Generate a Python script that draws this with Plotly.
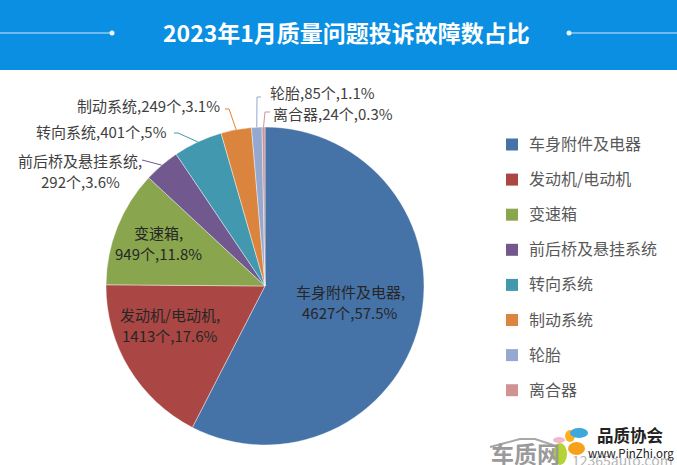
import math
import plotly.graph_objects as go

categories = ["车身附件及电器", "发动机/电动机", "变速箱", "前后桥及悬挂系统", "转向系统", "制动系统", "轮胎", "离合器"]
counts = [4627, 1413, 949, 292, 401, 249, 85, 24]
shares = ["57.5%", "17.6%", "11.8%", "3.6%", "5%", "3.1%", "1.1%", "0.3%"]
colors = ["#4572A7", "#AA4643", "#89A54E", "#71588F", "#4198AF", "#DB843D", "#93A9CF", "#D19392"]
title_text = "2023年1月质量问题投诉故障数占比"

W, H = 677, 465
CX, CY, R = 265, 286, 159
def px(x): return x / W
def py(y): return 1 - y / H

font = "Noto Sans CJK SC, Microsoft YaHei, sans-serif"
ink = "#3f3f3f"

fig = go.Figure(go.Pie(
    labels=categories, values=counts, sort=False, direction="clockwise", rotation=0,
    marker=dict(colors=colors, line=dict(color="rgba(255,255,255,0.7)", width=0.6)),
    textinfo="none", hoverinfo="label+value+percent", showlegend=False,
    domain=dict(x=[px(CX - R), px(CX + R)], y=[py(CY + R), py(CY - R)]),
))

shapes = []
annotations = []

def add_text(x, y, text, size=13, color=ink, anchor="center", bold=False):
    annotations.append(dict(
        x=px(x), y=py(y - 1.5), xref="paper", yref="paper", text=f"<b>{text}</b>" if bold else text,
        showarrow=False, xanchor=anchor, yanchor="middle", align="center",
        font=dict(family=font, size=size, color=color),
    ))

# header band
shapes.append(dict(type="rect", xref="paper", yref="paper", x0=0, x1=1, y0=py(70), y1=1,
                   fillcolor="#0A8FE2", line=dict(width=0), layer="below"))
for x0, x1, dot in [(0, 112, 112), (569, 677, 569)]:
    shapes.append(dict(type="line", xref="paper", yref="paper", x0=px(x0), x1=px(x1), y0=py(33), y1=py(33),
                       line=dict(color="#CFEAFB", width=1)))
    shapes.append(dict(type="circle", xref="paper", yref="paper", x0=px(dot - 2.5), x1=px(dot + 2.5),
                       y0=py(35.5), y1=py(30.5), fillcolor="#EAF6FE", line=dict(width=0)))
add_text(346, 33.5, title_text, size=23, color="#FFFFFF", bold=True)

# slice labels
LS = 15
def two_lines(i, x, y, color):
    add_text(x, y - 10.5, f"{categories[i]},", LS, color)
    add_text(x, y + 10.5, f"{counts[i]}个,{shares[i]}", LS, color)
def one_line(i, x, y):
    add_text(x, y, f"{categories[i]},{counts[i]}个,{shares[i]}", LS)

two_lines(0, 350, 303, "#262626")
two_lines(1, 170, 326, "#262626")
two_lines(2, 158, 244, "#262626")
two_lines(3, 80, 173, ink)
one_line(4, 101, 133)
one_line(5, 148, 107)
one_line(6, 322, 94)
one_line(7, 333, 115)

# leader lines start on the slice rim at the slice's middle angle
total = sum(counts)
def rim(i):
    a = (sum(counts[:i]) + counts[i] / 2) / total * 2 * math.pi
    return CX + R * math.sin(a), CY - R * math.cos(a)

leaders = {3: [(146, 161), (142, 160)], 4: [(178, 133), (174, 133)], 5: [(229, 109), (225, 109)],
           6: [(257, 97), (261, 97)], 7: [(265, 112), (270, 112)]}
for i, pts in leaders.items():
    x0, y0 = rim(i)
    path = f"M {px(x0)} {py(y0)} " + " ".join(f"L {px(x)} {py(y)}" for x, y in pts)
    shapes.append(dict(type="path", xref="paper", yref="paper", path=path,
                       line=dict(color=colors[i], width=1), fillcolor="rgba(0,0,0,0)"))

# legend
for i, (c, col) in enumerate(zip(categories, colors)):
    y = 144.5 + i * 35.1
    shapes.append(dict(type="rect", xref="paper", yref="paper", x0=px(506), x1=px(518),
                       y0=py(y + 6), y1=py(y - 6), fillcolor=col, line=dict(width=0)))
    add_text(527, y, c, 16, "#595959", anchor="left")

# watermarks
add_text(525, 454, "车质网", 23, "#9a9a9a", bold=True)
add_text(622, 461, "12365auto.com", 14, "#b5b5b5")
add_text(630, 436, "品质协会", 16.5, "#222222", bold=True)
add_text(631, 454, "www.PinZhi.org", 11.5, "#222222")
car = [(490, 447), (505, 443), (520, 439), (535, 439), (553, 445)]
shapes.append(dict(type="path", xref="paper", yref="paper",
                   path="M " + " L ".join(f"{px(x)} {py(y)}" for x, y in car),
                   line=dict(color="#a8a8a8", width=2), fillcolor="rgba(0,0,0,0)"))
for x0, y0, x1, y1, col in [(553, 437, 565, 443, "#F3B6CF"), (565, 430, 575, 442, "#FFB01F"),
                            (553, 443, 567, 465, "#B5D334"), (568, 442, 585, 455, "#F7A11A"),
                            (570, 428, 588, 438, "#3EA7DC")]:
    shapes.append(dict(type="circle", xref="paper", yref="paper", x0=px(x0), x1=px(x1), y0=py(y1), y1=py(y0),
                       fillcolor=col, line=dict(width=0)))

fig.update_layout(width=W, height=H, autosize=False, margin=dict(l=0, r=0, t=0, b=0),
                  paper_bgcolor="#FFFFFF", shapes=shapes, annotations=annotations)
fig.write_html("out.html", config=dict(displayModeBar=False),
               post_script="document.body.style.margin='0';document.body.style.overflow='hidden';")
